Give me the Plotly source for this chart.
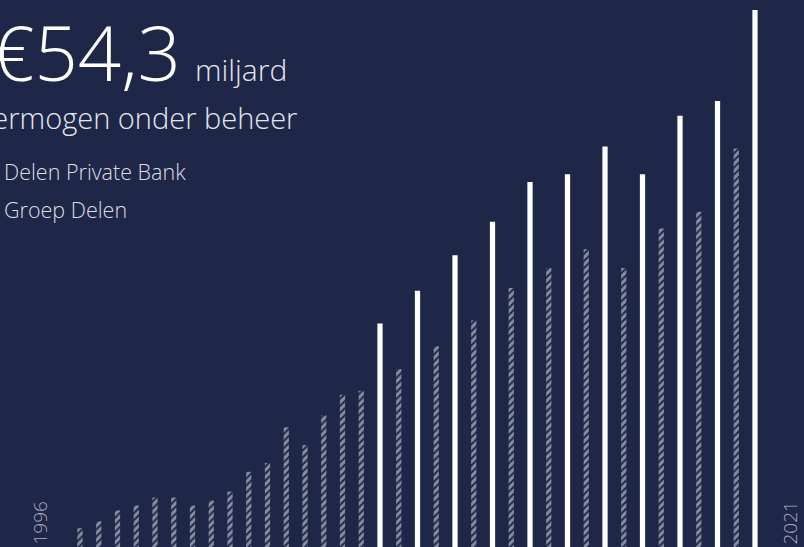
import plotly.graph_objects as go

# Data (billion EUR)
years = list(range(1996, 2022))
delen_private_bank = [1.9, 2.6, 3.7, 4.2, 5.0, 5.0, 4.2, 4.7, 5.6, 7.6, 8.5, 12.1, 10.3,
                      13.3, 15.4, 15.8, 18.0, 20.3, 22.9, 26.2, 28.2, 30.1, 28.2, 32.2, 33.9, 40.3]
groep_years = list(range(2011, 2022))
groep_delen = [22.6, 25.9, 29.5, 32.9, 36.9, 37.7, 40.5, 37.7, 43.6, 45.1, 54.3]

BG = "#1f2749"
FONT = "Open Sans"

# slot positions: one slot per year, two slots for years that also have Groep Delen
dpb_x, gd_x = [], []
slot = 0
for y in years:
    dpb_x.append(slot)
    slot += 1
    if y in groep_years:
        gd_x.append(slot)
        slot += 1

fig = go.Figure()
fig.add_trace(go.Bar(
    x=dpb_x, y=delen_private_bank, name="Delen Private Bank", width=0.28,
    marker=dict(color=BG, line=dict(width=0),
                pattern=dict(shape="/", fgcolor="#f0f1f5", bgcolor=BG, size=5, solidity=0.6)),
))
fig.add_trace(go.Bar(
    x=gd_x, y=groep_delen, name="Groep Delen", width=0.28,
    marker=dict(color="#ffffff", line=dict(width=0)),
))

W, H = 804, 547
step = 18.75
a = -80 / step
fig.update_layout(
    width=W, height=H, margin=dict(l=0, r=0, t=0, b=0),
    paper_bgcolor=BG, plot_bgcolor=BG, showlegend=False, barmode="overlay",
    xaxis=dict(range=[a, a + W / step], visible=False, fixedrange=True),
    yaxis=dict(range=[0, 54.3 * 547 / 537], visible=False, fixedrange=True),
    font=dict(family=FONT, color="#ffffff"),
)

def px(x):
    return x / W

def py(y):
    return 1 - y / H

anns = [
    dict(text="€54,3", x=px(-11), y=py(105), size=76, color="#ffffff"),
    dict(text="miljard", x=px(193), y=py(92), size=30, color="#e4e6ee"),
    dict(text="vermogen onder beheer", x=px(-23), y=py(139), size=29, color="#e4e6ee"),
    dict(text="Delen Private Bank", x=px(2), y=py(188), size=21.5, color="#dcdde2"),
    dict(text="Groep Delen", x=px(2), y=py(226), size=21.5, color="#dcdde2"),
]
for an in anns:
    fig.add_annotation(text=an["text"], x=an["x"], y=an["y"], xref="paper", yref="paper",
                       xanchor="left", yanchor="bottom", showarrow=False,
                       font=dict(family=FONT, size=an["size"], color=an["color"], weight=300))

fig.add_annotation(text=str(years[0]), x=px(39), y=py(547), xref="paper", yref="paper",
                   xanchor="center", yanchor="bottom", textangle=-90, showarrow=False,
                   font=dict(family=FONT, size=19, color="#a9adbd", weight=300))
fig.add_annotation(text=str(years[-1]), x=px(789), y=py(547), xref="paper", yref="paper",
                   xanchor="center", yanchor="bottom", textangle=-90, showarrow=False,
                   font=dict(family=FONT, size=19, color="#a9adbd", weight=300))

fig.write_html("out.html", config={"displayModeBar": False},
               post_script="document.body.style.margin='0';document.body.style.overflow='hidden';")
